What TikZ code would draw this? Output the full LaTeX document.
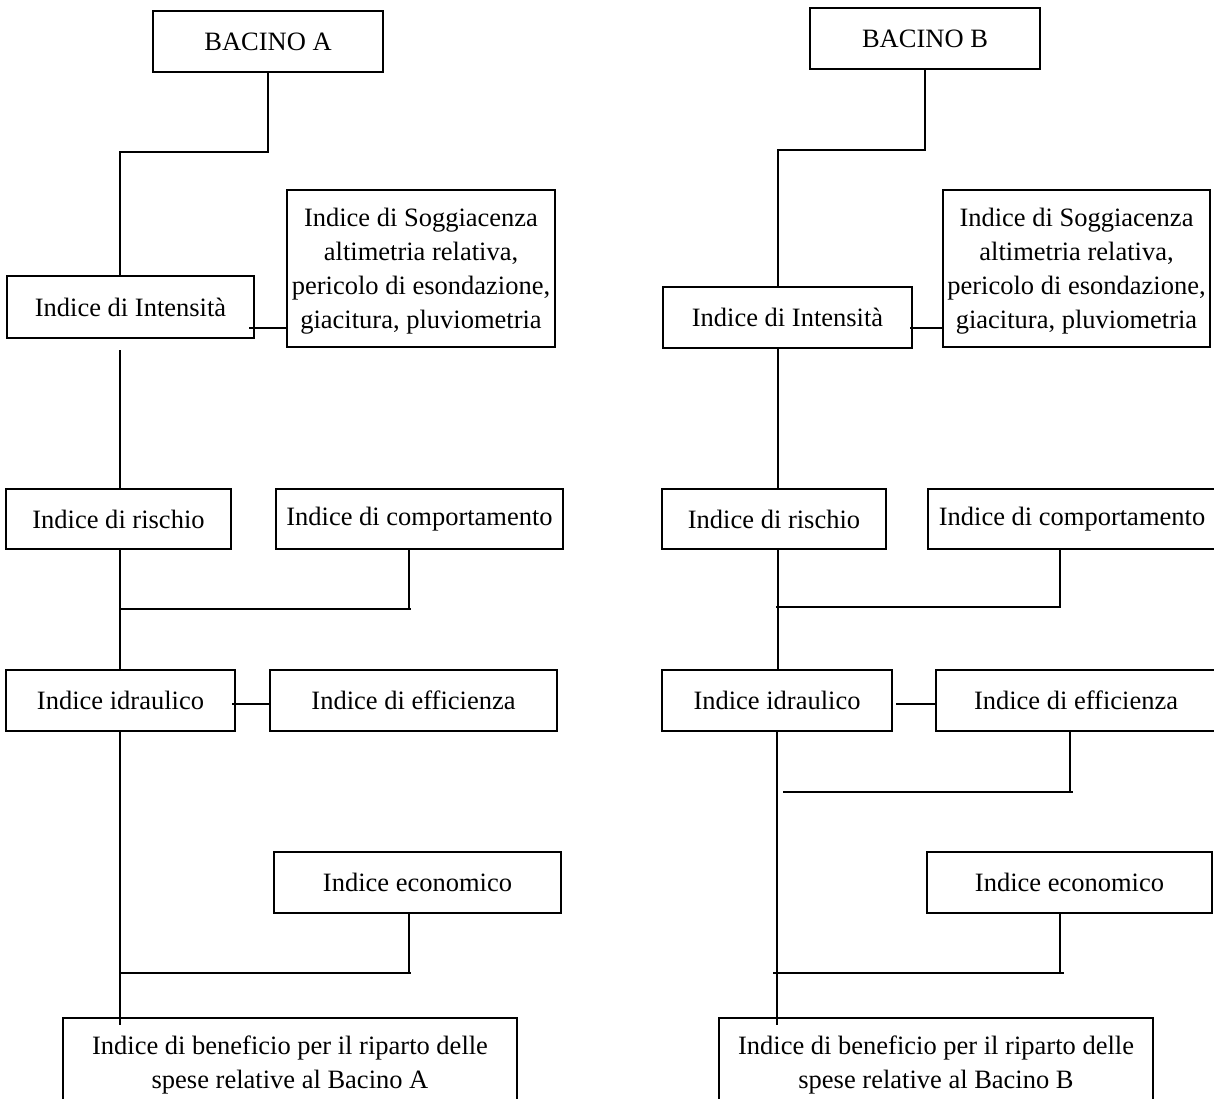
\documentclass[tikz,border=0pt]{standalone}
\usepackage{fontspec}
\setmainfont{Liberation Serif}
\tikzset{
  box/.style={draw=black, line width=1.6pt, inner sep=0pt, align=center,
              font=\fontsize{26.5}{34}\selectfont, fill=white},
  link/.style={draw=black, line width=1.8pt}
}
\begin{document}
\begin{tikzpicture}[x=1pt,y=-1pt]
\useasboundingbox (0,0) rectangle (1214,1099);
\fill[white] (0,0) rectangle (1214,1099);
\begin{scope}
\clip (0,0) rectangle (1214,1099);
% ---------------- Bacino A ----------------
\node[box, minimum width=230pt, minimum height=61pt] (bA) at (268,41.5) {BACINO A};
\node[box, minimum width=247pt, minimum height=62pt] (iA) at (130.5,307) {Indice di Intensità};
\node[box, minimum width=268pt, minimum height=157pt] (sA) at (421,268.5) {\rule{0pt}{24pt}Indice di Soggiacenza\\altimetria relativa,\\pericolo di esondazione,\\giacitura, pluviometria};
\node[box, minimum width=225pt, minimum height=60pt] (rA) at (118.5,519) {Indice di rischio};
\node[box, minimum width=287pt, minimum height=60pt] (cA) at (419.5,519) {Indice di comportamento};
\node[box, minimum width=229pt, minimum height=61pt] (hA) at (120.5,700.5) {Indice idraulico};
\node[box, minimum width=287pt, minimum height=61pt] (eA) at (413.5,700.5) {Indice di efficienza};
\node[box, minimum width=287pt, minimum height=61pt] (ecoA) at (417.5,882.5) {Indice economico};
\node[box, minimum width=454pt, minimum height=94pt] (benA) at (290,1065) {Indice di beneficio per il riparto delle\\spese relative al Bacino A};

\coordinate (jA1) at (120,152);
\coordinate (jA2) at (120,350);
\coordinate (jA3) at (120,609);
\coordinate (kA3) at (409,609);
\coordinate (jA4) at (120,973);
\coordinate (kA4) at (409,973);
\coordinate (jA5) at (120,1025);
\coordinate (mA) at (249,328);
\coordinate (nA) at (232,704);

\draw[link] (bA.south) |- (jA1) -- (jA1 |- iA.north);
\draw[link] (mA) -- (mA -| sA.west);
\draw[link] (jA2) -- (jA2 |- rA.north);
\draw[link] (jA2 |- rA.south) -- (jA2 |- hA.north);
\draw[link] (kA3 |- cA.south) -- (kA3);
\draw[link] (jA3) -- ([xshift=2pt]kA3);
\draw[link] (nA) -- (nA -| eA.west);
\draw[link] (jA2 |- hA.south) -- (jA5);
\draw[link] (kA4 |- ecoA.south) -- (kA4);
\draw[link] (jA4) -- ([xshift=2pt]kA4);

% ---------------- Bacino B ----------------
\node[box, minimum width=230pt, minimum height=61pt] (bB) at (925,38.5) {BACINO B};
\node[box, minimum width=249pt, minimum height=61pt] (iB) at (787.5,317.5) {Indice di Intensità};
\node[box, minimum width=267pt, minimum height=157pt] (sB) at (1076.5,268.5) {\rule{0pt}{24pt}Indice di Soggiacenza\\altimetria relativa,\\pericolo di esondazione,\\giacitura, pluviometria};
\node[box, minimum width=224pt, minimum height=60pt] (rB) at (774,519) {Indice di rischio};
\node[box, minimum width=288pt, minimum height=60pt] (cB) at (1072,519) {Indice di comportamento};
\node[box, minimum width=230pt, minimum height=61pt] (hB) at (777,700.5) {Indice idraulico};
\node[box, minimum width=280pt, minimum height=61pt] (eB) at (1076,700.5) {Indice di efficienza};
\node[box, minimum width=285pt, minimum height=61pt] (ecoB) at (1069.5,882.5) {Indice economico};
\node[box, minimum width=434pt, minimum height=94pt] (benB) at (936,1065) {Indice di beneficio per il riparto delle\\spese relative al Bacino B};

\coordinate (jB1) at (778,150);
\coordinate (jB2) at (778,348);
\coordinate (jB3) at (776,607);
\coordinate (kB3) at (1060,607);
\coordinate (kB4) at (1070,792);
\coordinate (jB4) at (783,792);
\coordinate (kB5) at (1060,973);
\coordinate (jB6) at (773,973);
\coordinate (jB5) at (777,1025);
\coordinate (mB) at (910,328);
\coordinate (nB) at (896,704);

\draw[link] (bB.south) |- (jB1) -- (jB1 |- iB.north);
\draw[link] (mB) -- (mB -| sB.west);
\draw[link] (jB2) -- (jB2 |- rB.north);
\draw[link] (jB2 |- rB.south) -- (jB2 |- hB.north);
\draw[link] (kB3 |- cB.south) -- (kB3);
\draw[link] (jB3) -- ([xshift=1pt]kB3);
\draw[link] (nB) -- (nB -| eB.west);
\draw[link] (jB5 |- hB.south) -- (jB5);
\draw[link] (kB4 |- eB.south) -- (kB4);
\draw[link] (jB4) -- ([xshift=3pt]kB4);
\draw[link] (kB5 |- ecoB.south) -- (kB5);
\draw[link] (jB6) -- ([xshift=4pt]kB5);
\end{scope}
\end{tikzpicture}
\end{document}
